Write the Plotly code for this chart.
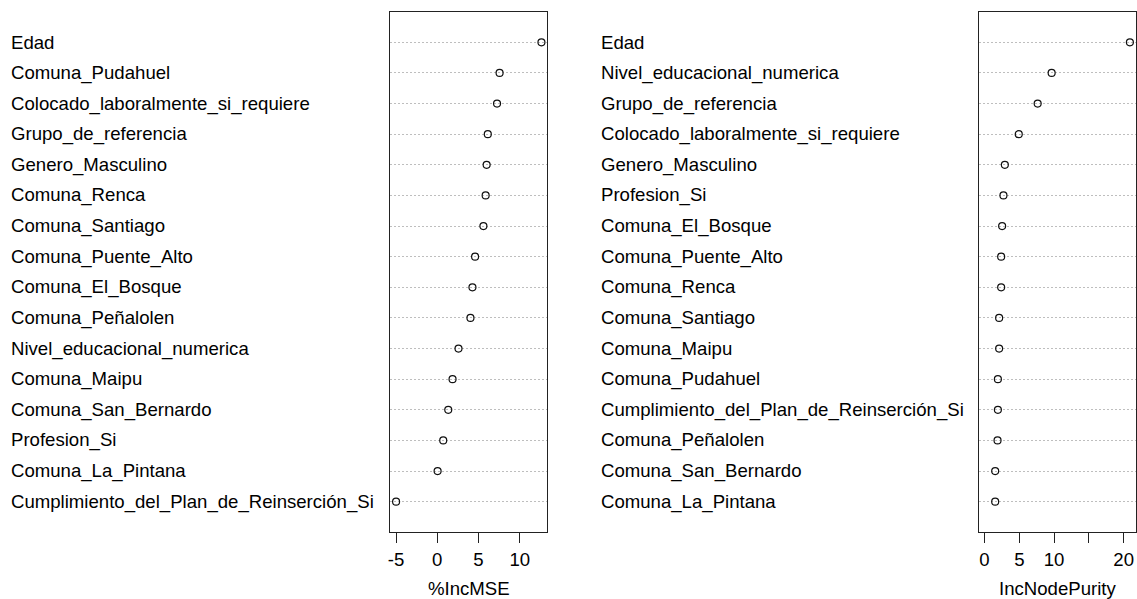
import plotly.graph_objects as go

W, H = 1137, 599

# Left panel: %IncMSE (ordered top to bottom)
mse_labels = [
    "Edad", "Comuna_Pudahuel", "Colocado_laboralmente_si_requiere",
    "Grupo_de_referencia", "Genero_Masculino", "Comuna_Renca",
    "Comuna_Santiago", "Comuna_Puente_Alto", "Comuna_El_Bosque",
    "Comuna_Peñalolen", "Nivel_educacional_numerica", "Comuna_Maipu",
    "Comuna_San_Bernardo", "Profesion_Si", "Comuna_La_Pintana",
    "Cumplimiento_del_Plan_de_Reinserción_Si",
]
mse_values = [12.62, 7.55, 7.24, 6.12, 5.98, 5.86, 5.59, 4.58, 4.26, 4.02,
              2.57, 1.85, 1.33, 0.72, 0.04, -4.99]

# Right panel: IncNodePurity (ordered top to bottom)
purity_labels = [
    "Edad", "Nivel_educacional_numerica", "Grupo_de_referencia",
    "Colocado_laboralmente_si_requiere", "Genero_Masculino", "Profesion_Si",
    "Comuna_El_Bosque", "Comuna_Puente_Alto", "Comuna_Renca",
    "Comuna_Santiago", "Comuna_Maipu", "Comuna_Pudahuel",
    "Cumplimiento_del_Plan_de_Reinserción_Si", "Comuna_Peñalolen",
    "Comuna_San_Bernardo", "Comuna_La_Pintana",
]
purity_values = [20.9, 9.65, 7.64, 4.92, 2.92, 2.72, 2.53, 2.39, 2.39, 2.10,
                 2.10, 1.92, 1.92, 1.87, 1.53, 1.53]

mse_ticks = [-5, 0, 5, 10]
mse_ticktext = ["-5", "0", "5", "10"]
purity_ticks = [0, 5, 10, 15, 20]
purity_ticktext = ["0", "5", "10", "", "20"]

FONT = "Liberation Sans, Arial, sans-serif"
FS = 18.6

def ext_range(lo, hi):
    span = hi - lo
    return [lo - 0.04 * span, hi + 0.04 * span]

fig = go.Figure()
n = len(mse_labels)
rows = list(range(n))

fig.add_trace(go.Scatter(
    x=mse_values, y=rows, mode="markers", xaxis="x", yaxis="y",
    marker=dict(symbol="circle-open", size=7, color="#111111", line=dict(width=1.2)),
    showlegend=False, hoverinfo="x+text", text=mse_labels))
fig.add_trace(go.Scatter(
    x=purity_values, y=rows, mode="markers", xaxis="x2", yaxis="y2",
    marker=dict(symbol="circle-open", size=7, color="#111111", line=dict(width=1.2)),
    showlegend=False, hoverinfo="x+text", text=purity_labels))

ydom = [1 - 532.3 / H, 1 - 11.7 / H]
common_x = dict(
    showline=True, linecolor="#222222", linewidth=1, mirror=True,
    ticks="outside", ticklen=10, tickwidth=1, tickcolor="#222222",
    showgrid=False, zeroline=False,
    tickfont=dict(family=FONT, size=FS, color="black"),
)
common_y = dict(
    range=[n, -1], tickvals=rows, showticklabels=False, ticks="",
    showgrid=True, gridcolor="#BEBEBE", griddash="2px,2px", gridwidth=1,
    showline=True, linecolor="#222222", linewidth=1, mirror=True,
    zeroline=False, domain=ydom,
)

fig.update_layout(
    width=W, height=H,
    margin=dict(l=0, r=0, t=0, b=0),
    paper_bgcolor="white", plot_bgcolor="white",
    xaxis=dict(domain=[388.3 / W, 545.7 / W], anchor="y",
               range=ext_range(min(mse_values), max(mse_values)),
               tickvals=mse_ticks, ticktext=mse_ticktext, **common_x),
    yaxis=dict(anchor="x", **common_y),
    xaxis2=dict(domain=[978.3 / W, 1135.7 / W], anchor="y2",
                range=ext_range(0, max(purity_values)),
                tickvals=purity_ticks, ticktext=purity_ticktext, **common_x),
    yaxis2=dict(anchor="x2", **common_y),
)

annotations = []
for i, lab in enumerate(mse_labels):
    annotations.append(dict(text=lab, xref="paper", x=6.5 / W, xanchor="left",
                            yref="y", y=i, yanchor="middle", showarrow=False,
                            font=dict(family=FONT, size=FS, color="black")))
for i, lab in enumerate(purity_labels):
    annotations.append(dict(text=lab, xref="paper", x=597.5 / W, xanchor="left",
                            yref="y2", y=i, yanchor="middle", showarrow=False,
                            font=dict(family=FONT, size=FS, color="black")))
annotations.append(dict(text="%IncMSE", xref="paper", x=467 / W, xanchor="center",
                        yref="paper", y=1 - 588 / H, yanchor="middle", showarrow=False,
                        font=dict(family=FONT, size=FS, color="black")))
annotations.append(dict(text="IncNodePurity", xref="paper", x=1057 / W, xanchor="center",
                        yref="paper", y=1 - 588 / H, yanchor="middle", showarrow=False,
                        font=dict(family=FONT, size=FS, color="black")))
fig.update_layout(annotations=annotations)

fig.write_html("out.html")
